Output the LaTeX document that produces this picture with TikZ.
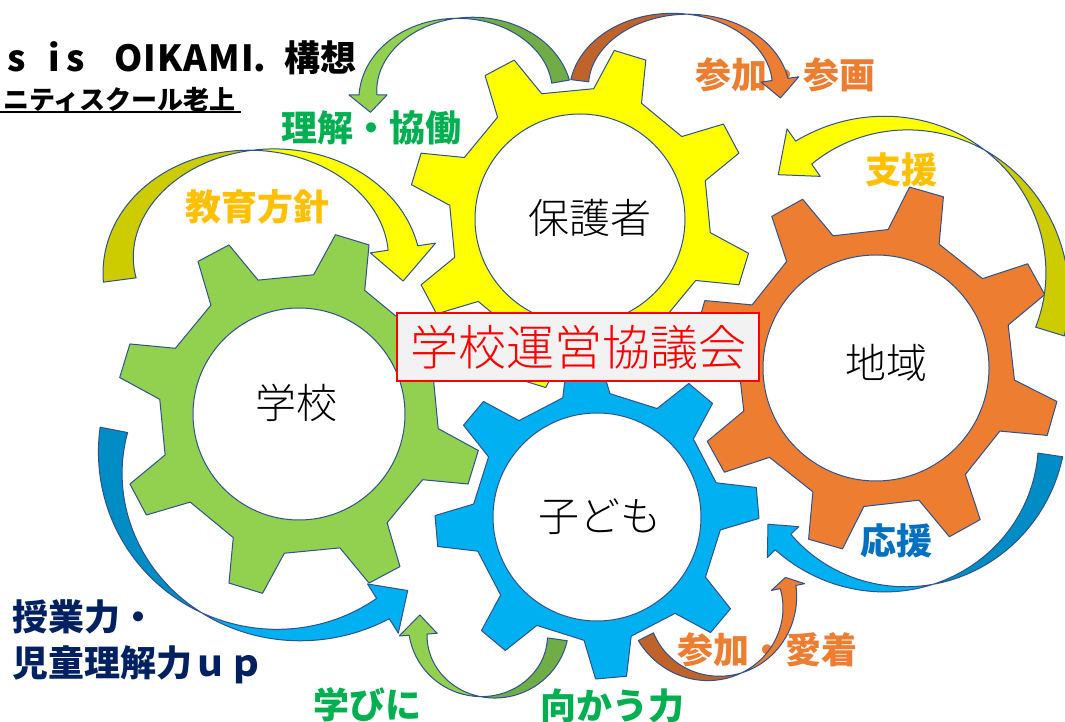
\documentclass[tikz,border=0pt]{standalone}
\usepackage{fontspec}
\setmainfont{Noto Sans CJK JP}
\IfFontExistsTF{Noto Sans CJK JP Light}
  {\newfontfamily\jplight{Noto Sans CJK JP Light}}
  {\newfontfamily\jplight{Noto Sans CJK JP}}
\definecolor{outl}{HTML}{2F528F}
\definecolor{gyellow}{HTML}{FFFF00}
\definecolor{ggreen}{HTML}{92D050}
\definecolor{gorange}{HTML}{ED7D31}
\definecolor{gblue}{HTML}{00B0F0}
\definecolor{dgreen}{HTML}{70AD47}
\definecolor{dorange}{HTML}{C0632A}
\definecolor{dolive}{HTML}{CCCC00}
\definecolor{dblue}{HTML}{008CC4}
\definecolor{tgreen}{HTML}{00B050}
\definecolor{tgold}{HTML}{FFC000}
\definecolor{tblue}{HTML}{0070C0}
\definecolor{tnavy}{HTML}{002060}
\definecolor{boxgray}{HTML}{F2F2F2}
\tikzset{
  outline/.style={draw=outl, line width=1pt, line join=round},
  lbl/.style={font=\fontsize{36}{40}\selectfont\bfseries, inner sep=0pt},
  glbl/.style={font=\jplight\fontsize{41}{45}\selectfont, inner sep=0pt, text=black},
}
% gear: cx, cy, root radius, tip radius, offset angle, fill, inner radius
\newcommand\gear[7]{%
  \begin{scope}[shift={(#1,#2)}]
    \filldraw[fill=#6, outline] (#5-11:#3)
      \foreach \k in {0,...,7}{ -- (#5+45*\k-11:#3) -- (#5+45*\k-5.5:#4) -- (#5+45*\k+5.5:#4) -- (#5+45*\k+11:#3)} -- cycle;
    \filldraw[fill=white, outline] (0,0) circle (#7pt);
  \end{scope}}
% curved ribbon arrow
\pgfkeys{/carrow/.is family,/carrow,
  cx/.store in=\CAcx, cy/.store in=\CAcy, a/.store in=\CAa, b/.store in=\CAb,
  s/.store in=\CAs, e/.store in=\CAe, t/.store in=\CAt,
  w0/.store in=\CAwa, w1/.store in=\CAwb, hw/.store in=\CAhw,
  dark/.store in=\CAdark, light/.store in=\CAlight, rot/.store in=\CArot}
\def\CAW{((\CAwa)-((\CAwa)+(\CAwb))*(\t-(\CAs))/((\CAe)-(\CAs)))}
\newcommand\carrow[1]{%
  \pgfkeys{/carrow,rot=0,#1}%
  \pgfmathsetmacro\CApc{\CAs+(\CAe-(\CAs))*\CAwa/(\CAwa+\CAwb)}%
  \begin{scope}[shift={(\CAcx,\CAcy)},rotate=\CArot]
    \fill[fill=\CAdark] plot[domain=\CAs:\CApc,samples=40,variable=\t]
        ({(\CAa+0.5*\CAW)*cos(\t)},{(\CAb+0.5*\CAW)*sin(\t)})
      -- plot[domain=\CApc:\CAs,samples=40,variable=\t]
        ({(\CAa-0.5*\CAW)*cos(\t)},{(\CAb-0.5*\CAW)*sin(\t)}) -- cycle;
    \fill[fill=\CAlight] plot[domain=\CApc:\CAe,samples=40,variable=\t]
        ({(\CAa+0.5*\CAW)*cos(\t)},{(\CAb+0.5*\CAW)*sin(\t)})
      -- ({(\CAa-\CAhw)*cos(\CAe)},{(\CAb-\CAhw)*sin(\CAe)})
      -- ({\CAa*cos(\CAt)},{\CAb*sin(\CAt)})
      -- ({(\CAa+\CAhw)*cos(\CAe)},{(\CAb+\CAhw)*sin(\CAe)})
      -- plot[domain=\CAe:\CApc,samples=40,variable=\t]
        ({(\CAa-0.5*\CAW)*cos(\t)},{(\CAb-0.5*\CAW)*sin(\t)}) -- cycle;
    \draw[outline] plot[domain=\CAs:\CAe,samples=80,variable=\t]
        ({(\CAa+0.5*\CAW)*cos(\t)},{(\CAb+0.5*\CAW)*sin(\t)})
      -- ({(\CAa-\CAhw)*cos(\CAe)},{(\CAb-\CAhw)*sin(\CAe)})
      -- ({\CAa*cos(\CAt)},{\CAb*sin(\CAt)})
      -- ({(\CAa+\CAhw)*cos(\CAe)},{(\CAb+\CAhw)*sin(\CAe)})
      -- plot[domain=\CAe:\CAs,samples=80,variable=\t]
        ({(\CAa-0.5*\CAW)*cos(\t)},{(\CAb-0.5*\CAW)*sin(\t)}) -- cycle;
  \end{scope}}

\begin{document}
\begin{tikzpicture}[x=1pt,y=1pt]
\useasboundingbox (0,0) rectangle (1065,722);
\fill[white] (0,0) rectangle (1065,722);

% gears
\gear{580}{503}{131}{172}{28}{gyellow}{105}
\gear{299}{308}{140}{183}{28}{ggreen}{106}
\gear{876}{354}{139}{184}{29}{gorange}{113}
\gear{597}{205}{124}{162}{5}{gblue}{104}

% gear labels
\node[glbl] (hogosha) at (590,504) {保護者};
\node[glbl] (gakko) at (296,319) {学校};
\node[glbl] (chiiki) at (886,359) {地域};
\node[glbl] (kodomo) at (600,205) {子ども};

% council box
\node[draw=red, fill=boxgray, line width=1.5pt, minimum width=362pt, minimum height=68pt, inner sep=0pt,
  text=red, font=\jplight\fontsize{48}{52}\selectfont] (council) at (578,375) {学校運営協議会};

% titles
\node[anchor=west, inner sep=0pt, font=\fontsize{36}{40}\selectfont\bfseries] (title) at (7,664)
  {s\hspace{23pt}i\hspace{6pt}s\hspace{30pt}O\hspace{1pt}I\hspace{1pt}K\hspace{1pt}A\hspace{1pt}M\hspace{1pt}I.\hspace{18pt}構想};
\node[anchor=west, inner sep=0pt, font=\fontsize{26}{30}\selectfont\bfseries] (sub) at (3,622) {ニティスクール老上};
\draw[line width=1.5pt] (0,610) -- (241,610);

% labels
\node[lbl, text=tgreen] (l1) at (371,594) {理解・協働};
\node[lbl, text=gorange] (l2) at (785,647) {参加・参画};
\node[lbl, text=tgold] (l3) at (257,515) {教育方針};
\node[lbl, text=tgold] (l4) at (901,552) {支援};
\node[lbl, text=tblue] (l5) at (896,181) {応援};
\node[lbl, text=gorange] (l6) at (767,72) {参加・愛着};
\node[lbl, text=tgreen] (l7) at (612,16) {向かう力};
\node[lbl, text=tgreen] (l8) at (367,17) {学びに};
\node[lbl, text=tnavy, anchor=west] (l9) at (12,105) {授業力・};
\node[lbl, text=tnavy, anchor=west] (l10) at (12,57) {児童理解力ｕｐ};

% curved arrows
\carrow{cx=465,cy=627,a=97,b=77,s=10,e=180,t=193,w0=18,w1=18,hw=19,dark=dgreen,light=ggreen}
\carrow{cx=680,cy=632,a=101,b=76,s=173,e=8,t=-6,w0=18,w1=16,hw=19,dark=dorange,light=gorange}
\carrow{cx=261.5,cy=457,a=143,b=115,s=187.5,e=8.5,t=-8,w0=33,w1=30,hw=33,dark=dolive,light=gyellow}
\carrow{cx=896,cy=437.5,a=161,b=161,s=-17,e=125,t=137,w0=30,w1=28,hw=29,dark=dolive,light=gyellow}
\carrow{cx=895,cy=290,a=157,b=157,s=-8.4,e=-135.5,t=-144,w0=25,w1=22,hw=22,dark=dblue,light=gblue}
\carrow{cx=288.6,cy=259.3,a=178,b=172,s=169,e=302,t=312,w0=28,w1=24,hw=29,dark=dblue,light=gblue}
\carrow{cx=488,cy=92,a=70,b=67,s=352,e=184,t=167,w0=20,w1=18,hw=19,dark=dgreen,light=ggreen}
\carrow{cx=713.6,cy=119.8,a=76,b=76,s=207,e=371.5,t=379,w0=17,w1=16,hw=17,dark=dorange,light=gorange}
\end{tikzpicture}
\end{document}
